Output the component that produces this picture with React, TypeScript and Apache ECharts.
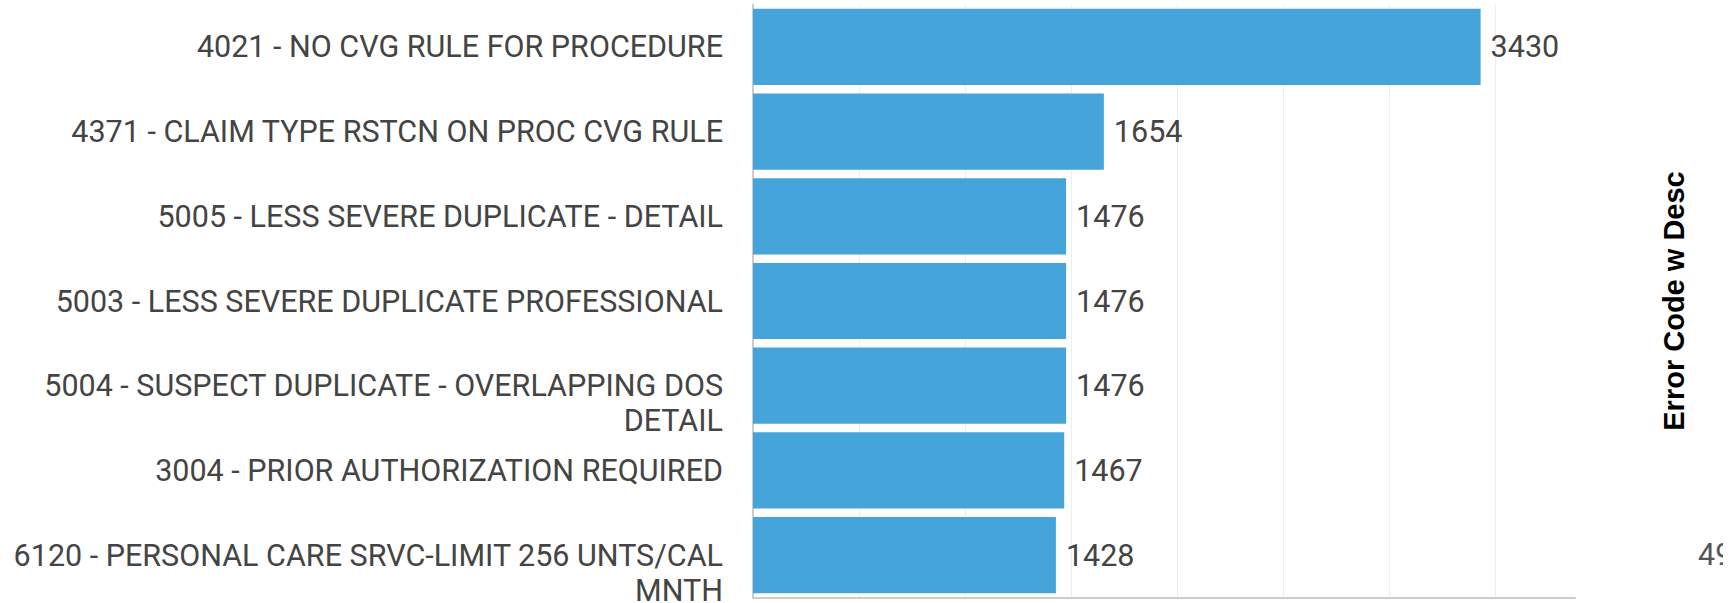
import React, { useEffect, useRef } from "react";
import * as echarts from "echarts";

const categories: string[] = [
  "4021 - NO CVG RULE FOR PROCEDURE",
  "4371 - CLAIM TYPE RSTCN ON PROC CVG RULE",
  "5005 - LESS SEVERE DUPLICATE - DETAIL",
  "5003 - LESS SEVERE DUPLICATE PROFESSIONAL",
  "5004 - SUSPECT DUPLICATE - OVERLAPPING DOS\nDETAIL",
  "3004 - PRIOR AUTHORIZATION REQUIRED",
  "6120 - PERSONAL CARE SRVC-LIMIT 256 UNTS/CAL\nMNTH",
];
const values: number[] = [3430, 1654, 1476, 1476, 1476, 1467, 1428];
const axisTitle = "Error Code w Desc";
const clippedLegendText = "49";

const LINE_H = 35;

export default function App() {
  const ref = useRef<HTMLDivElement>(null);
  useEffect(() => {
    if (!ref.current) return;
    const chart = echarts.init(ref.current, undefined, { renderer: "svg" });
    chart.setOption({
      animation: false,
      backgroundColor: "#ffffff",
      grid: {
        left: 753,
        right: 159,
        top: 4.5,
        bottom: 5.5,
        containLabel: false,
        outerBoundsMode: "none",
      },
      xAxis: {
        type: "value",
        min: 0,
        max: 3875,
        interval: 500,
        axisLabel: { show: false },
        axisTick: { show: false },
        axisLine: { show: true, lineStyle: { color: "#cccccc", width: 2 } },
        splitLine: {
          show: true,
          showMinLine: false,
          showMaxLine: false,
          lineStyle: { color: "#eeeeee", width: 1 },
        },
      },
      yAxis: {
        type: "category",
        inverse: true,
        data: categories,
        axisTick: { show: false },
        axisLine: { show: true, lineStyle: { color: "#cccccc", width: 2 } },
        axisLabel: {
          margin: 30,
          fontFamily: "Roboto",
          fontSize: 30.5,
          lineHeight: LINE_H,
          color: "#444444",
          align: "right",
          // keep the first line of a wrapped label centred on its bar
          formatter: (v: string) => (v.includes("\n") ? "\n" + v : v),
        },
      },
      series: [
        {
          type: "bar",
          data: values,
          barCategoryGap: "10%",
          itemStyle: { color: "#45a4d9" },
          label: {
            show: true,
            position: "right",
            distance: 10,
            fontFamily: "Roboto",
            fontSize: 30.5,
            color: "#444444",
          },
        },
      ],
      graphic: [
        {
          type: "text",
          x: 1674,
          y: 301,
          rotation: Math.PI / 2,
          style: {
            text: axisTitle,
            fontFamily: "Liberation Sans",
            fontWeight: "bold",
            fontSize: 29,
            fill: "#000000",
            align: "center",
            verticalAlign: "middle",
          },
        },
        {
          type: "text",
          x: 1698,
          y: 554,
          style: {
            text: clippedLegendText,
            fontFamily: "Roboto",
            fontSize: 30.5,
            fill: "#555555",
            align: "left",
            verticalAlign: "middle",
          },
        },
        {
          type: "rect",
          shape: { x: 1723, y: 520, width: 11, height: 70 },
          style: { fill: "#ffffff" },
          z: 100,
        },
      ],
    });
    return () => chart.dispose();
  }, []);
  return (
    <div
      ref={ref}
      style={{
        position: "fixed",
        left: 0,
        top: 0,
        width: 1734,
        height: 603,
        overflow: "hidden",
        background: "#fff",
      }}
    />
  );
}
